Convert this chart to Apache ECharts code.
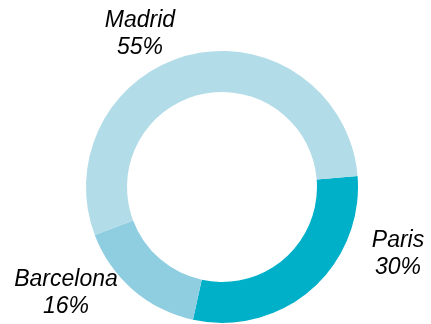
<!DOCTYPE html>
<html>
<head>
<meta charset="utf-8">
<style>
  html, body { margin: 0; padding: 0; background: #fff; }
  #chart { width: 431px; height: 324px; }
</style>
<script src="https://cdn.jsdelivr.net/npm/echarts@6/dist/echarts.min.js"></script>
</head>
<body>
<div id="chart"></div>
<script>
// share of offices per city, in drawing order (clockwise from ~3 o'clock)
const cities = ['Paris', 'Barcelona', 'Madrid']
const shares = [30, 16, 55]
const sliceColors = ['#00b0c8', '#8fcde0', '#b2dce8']

// where each two-line label block sits (centre of block)
const labelSpots = [[398, 254], [66, 293], [140, 34]]

const chart = echarts.init(document.getElementById('chart'))

chart.setOption({
  animation: false,
  series: [
    {
      type: 'pie',
      center: [222, 187],
      radius: [95, 136],
      startAngle: 4.6,
      clockwise: true,
      silent: true,
      data: cities.map((name, i) => ({
        name,
        value: shares[i],
        itemStyle: { color: sliceColors[i] },
      })),
      label: {
        show: true,
        position: 'outside',
        formatter: '{b}\n{c}%',
        color: '#000',
        fontFamily: '"Liberation Sans", Arial, sans-serif',
        fontStyle: 'italic',
        fontSize: 23,
        lineHeight: 27,
        align: 'center',
        overflow: 'none',
        width: 200,
      },
      labelLine: { show: false },
      labelLayout: (params) => {
        const spot = labelSpots[params.dataIndex]
        return {
          x: spot[0],
          y: spot[1],
          align: 'center',
          verticalAlign: 'middle',
        }
      },
    },
  ],
})
</script>
</body>
</html>
